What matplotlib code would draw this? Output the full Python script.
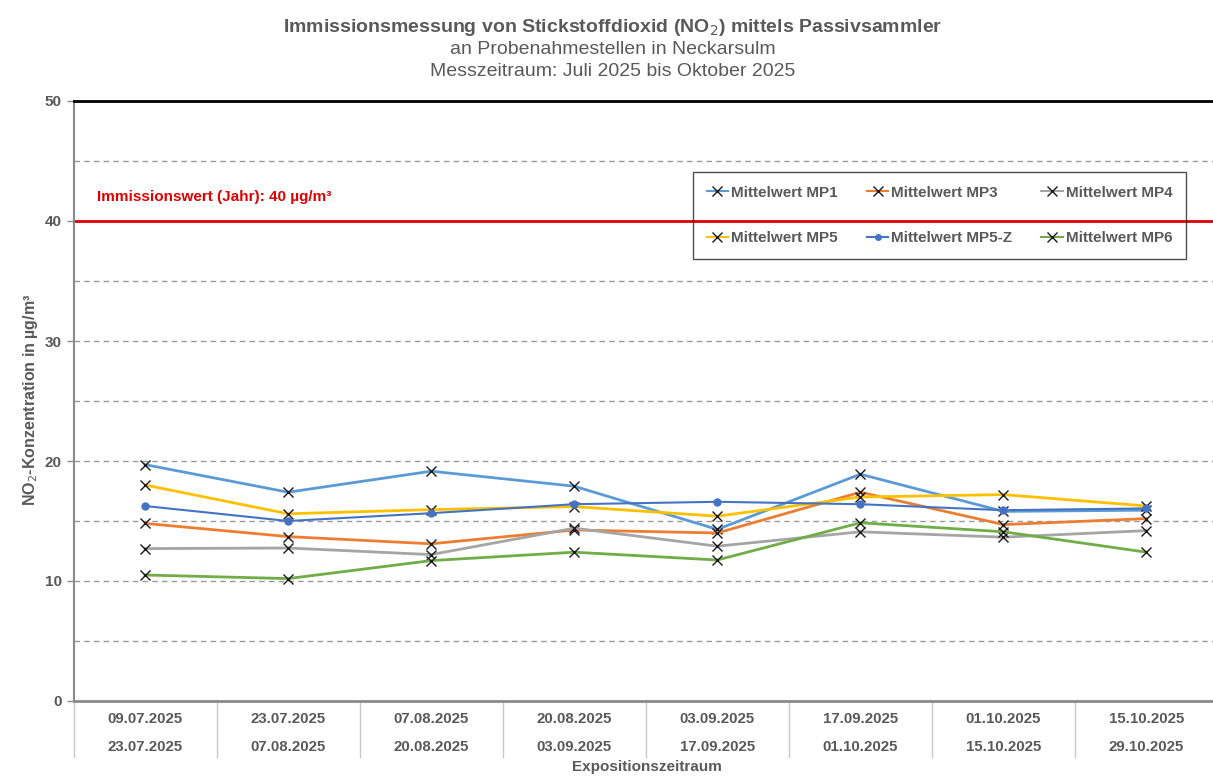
import matplotlib
matplotlib.use("Agg")
import matplotlib.pyplot as plt
import matplotlib.transforms as mtransforms
from matplotlib.lines import Line2D

plt.rcParams['font.family'] = ['Liberation Sans', 'DejaVu Sans']

periods_start = ["09.07.2025", "23.07.2025", "07.08.2025", "20.08.2025",
                 "03.09.2025", "17.09.2025", "01.10.2025", "15.10.2025"]
periods_end = ["23.07.2025", "07.08.2025", "20.08.2025", "03.09.2025",
               "17.09.2025", "01.10.2025", "15.10.2025", "29.10.2025"]

mp1 = [19.7, 17.4, 19.15, 17.9, 14.3, 18.9, 15.8, 15.9]
mp3 = [14.8, 13.7, 13.1, 14.25, 14.0, 17.4, 14.7, 15.2]
mp4 = [12.7, 12.75, 12.2, 14.4, 12.9, 14.1, 13.65, 14.2]
mp5 = [18.0, 15.6, 15.95, 16.2, 15.4, 17.0, 17.2, 16.25]
mp5z = [16.25, 15.0, 15.65, 16.4, 16.6, 16.4, 15.9, 16.05]
mp6 = [10.5, 10.2, 11.7, 12.4, 11.75, 14.85, 14.1, 12.4]

limit_value = 40
limit_label = "Immissionswert (Jahr): 40 µg/m³"

GRAY = "#595959"
W, H = 1213, 781
fig = plt.figure(figsize=(W / 100, H / 100), dpi=100)
ax = fig.add_axes([73.5 / W, 1 - 701 / H, 1144.5 / W, 600 / H])

x = list(range(len(periods_start)))

series = [
    ("Mittelwert MP1", mp1, "#5B9BD5", "x"),
    ("Mittelwert MP3", mp3, "#ED7D31", "x"),
    ("Mittelwert MP4", mp4, "#A5A5A5", "x"),
    ("Mittelwert MP5", mp5, "#FFC000", "x"),
    ("Mittelwert MP5-Z", mp5z, "#4472C4", "o"),
    ("Mittelwert MP6", mp6, "#70AD47", "x"),
]
handles = {}
for name, vals, col, mk in series:
    if mk == "x":
        h, = ax.plot(x, vals, color=col, lw=2.0, marker="x", ms=7.5,
                     mec="#1a1a1a", mew=1.0, label=name, zorder=3)
    else:
        h, = ax.plot(x, vals, color=col, lw=1.5, marker="o", ms=5,
                     mec=col, mfc=col, label=name, zorder=3)
    handles[name] = h

ax.set_xlim(-0.5, len(x) - 0.5)
ax.set_ylim(0, 50)
ax.set_yticks([0, 10, 20, 30, 40, 50])
for v in [5, 10, 15, 20, 25, 30, 35, 45]:
    ax.axhline(v, color="#9a9a9a", lw=1.0, ls=(0, (4, 3)), zorder=1)
ax.axhline(limit_value, color="#E00000", lw=2.0, zorder=2)
fig.text(97 / W, 1 - 197 / H, limit_label, color="#E00000", fontsize=11,
         fontweight="bold", va="center", ha="left")

ax.spines["right"].set_visible(False)
ax.spines["top"].set_color("black")
ax.spines["top"].set_linewidth(2.0)
ax.spines["left"].set_color("#8a8a8a")
ax.spines["left"].set_linewidth(1.5)
ax.spines["bottom"].set_color("#8a8a8a")
ax.spines["bottom"].set_linewidth(2.0)

ax.tick_params(axis="y", colors="#8a8a8a", length=5, width=1, labelcolor=GRAY,
               labelsize=11)
for lbl in ax.get_yticklabels():
    lbl.set_fontweight("bold")
ax.set_xticks([])

trans = mtransforms.blended_transform_factory(ax.transData, ax.transAxes)
for i in x:
    ax.text(i, -18 / 600, periods_start[i], transform=trans, ha="center", va="center",
            fontsize=10.8, fontweight="bold", color=GRAY)
    ax.text(i, -46 / 600, periods_end[i], transform=trans, ha="center", va="center",
            fontsize=10.8, fontweight="bold", color=GRAY)
for b in range(len(x) + 1):
    ax.plot([b - 0.5, b - 0.5], [0, -56 / 600], transform=trans, color="#c8c8c8",
            lw=1.0, clip_on=False)

fig.text(647 / W, 1 - 767 / H, "Expositionszeitraum", ha="center",
         va="center", fontsize=11, fontweight="bold", color=GRAY)
fig.text(31 / W, 1 - 400 / H, "NO$_2$-Konzentration in µg/m³", rotation=90,
         ha="center", va="center", fontsize=11.5, fontweight="bold", color=GRAY)

fig.text(613 / W, 1 - 27 / H, "Immissionsmessung von Stickstoffdioxid (NO$_2$) mittels Passivsammler",
         ha="center", va="center", fontsize=14, fontweight="bold", color=GRAY)
fig.text(613 / W, 1 - 50 / H, "an Probenahmestellen in Neckarsulm",
         ha="center", va="center", fontsize=14, color=GRAY)
fig.text(613 / W, 1 - 72 / H, "Messzeitraum: Juli 2025 bis Oktober 2025",
         ha="center", va="center", fontsize=14, color=GRAY)

order = ["Mittelwert MP1", "Mittelwert MP5", "Mittelwert MP3",
         "Mittelwert MP5-Z", "Mittelwert MP4", "Mittelwert MP6"]
leg_handles = []
for nm in order:
    h = handles[nm]
    if nm == "Mittelwert MP5-Z":
        lh = Line2D([], [], color=h.get_color(), lw=1.5, marker="o", ms=4,
                    mfc=h.get_color(), mec=h.get_color())
    else:
        lh = Line2D([], [], color=h.get_color(), lw=1.5, marker="x", ms=7,
                    mec="#1a1a1a", mew=1.0)
    leg_handles.append(lh)
leg = fig.legend(leg_handles, order, ncol=3, loc="upper left",
                 bbox_to_anchor=(693 / W, 1 - 172 / H), bbox_transform=fig.transFigure,
                 frameon=True, fancybox=False, edgecolor="#222222", facecolor="none",
                 prop={"weight": "bold", "size": 11}, labelcolor=GRAY,
                 handlelength=1.4, handletextpad=0.2, columnspacing=1.9,
                 labelspacing=2.05, borderpad=0.9, borderaxespad=0)
leg.get_frame().set_linewidth(1.0)

fig.savefig("out.png", dpi=100)
